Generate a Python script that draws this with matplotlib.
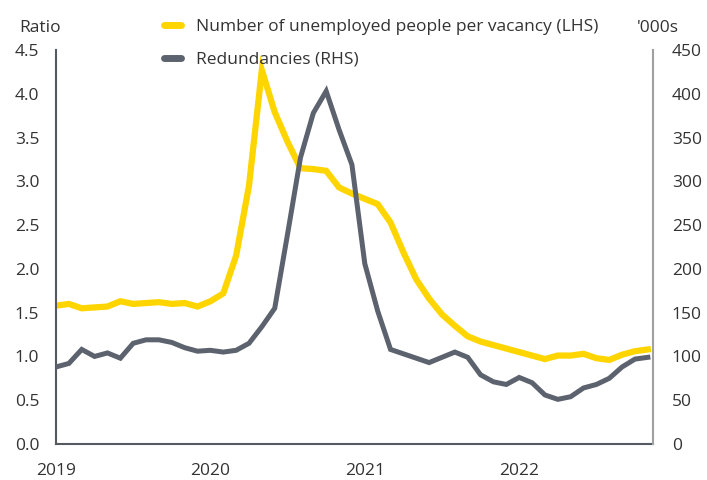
import matplotlib
matplotlib.use("Agg")
import matplotlib.pyplot as plt
from matplotlib.lines import Line2D

# Monthly data, Jan 2019 - Nov 2022
ratio = [1.58, 1.60, 1.55, 1.56, 1.57, 1.63, 1.60, 1.61, 1.62, 1.60,
         1.61, 1.57, 1.63, 1.72, 2.15, 2.95, 4.27, 3.79, 3.45, 3.15,
         3.14, 3.12, 2.93, 2.86, 2.80, 2.74, 2.53, 2.19, 1.88, 1.66,
         1.48, 1.35, 1.23, 1.17, 1.13, 1.09, 1.05, 1.01, 0.97, 1.01,
         1.01, 1.03, 0.98, 0.96, 1.02, 1.06, 1.08]
redundancies = [88, 92, 108, 100, 104, 98, 115, 119, 119, 116,
                110, 106, 107, 105, 107, 115, 134, 155, 240, 327,
                378, 403, 359, 319, 206, 152, 108, 103, 98, 93,
                99, 105, 99, 79, 71, 68, 76, 70, 56, 51,
                54, 64, 68, 75, 88, 97, 99]
year_labels = ["2019", "2020", "2021", "2022"]
year_pos = [0, 12, 24, 36]
left_ticks = [0.0, 0.5, 1.0, 1.5, 2.0, 2.5, 3.0, 3.5, 4.0, 4.5]
right_ticks = [0, 50, 100, 150, 200, 250, 300, 350, 400, 450]

YELLOW = "#FFD500"
GRAY = "#5C636E"
TEXT = "#333333"
FS = 12.5

plt.rcParams['font.family'] = ['Open Sans', 'DejaVu Sans']
plt.rcParams['font.size'] = FS

fig = plt.figure(figsize=(7.07, 4.80), dpi=100)
ax = fig.add_axes([56/707, 1-444/480, (653-56)/707, (444-50)/480])
ax2 = ax.twinx()

x = list(range(len(ratio)))
ax.plot(x, ratio, color=YELLOW, lw=4.5, solid_joinstyle='miter', zorder=2)
ax2.plot(x, redundancies, color=GRAY, lw=3.6, solid_joinstyle='miter', zorder=3)

ax.set_xlim(0, 46.4)
ax.set_ylim(0, 4.5)
ax2.set_ylim(0, 450)
ax.set_yticks(left_ticks)
ax.set_yticklabels([f"{v:.1f}" for v in left_ticks])
ax2.set_yticks(right_ticks)
ax2.set_yticklabels([str(v) for v in right_ticks])
ax.set_xticks(year_pos)
ax.set_xticklabels(year_labels)

ax.tick_params(axis='y', length=0, pad=12, labelsize=FS, colors=TEXT)
ax.tick_params(axis='x', length=0, pad=13.5, labelsize=FS, colors=TEXT)
ax2.tick_params(axis='y', length=0, pad=13.5, labelsize=FS, colors=TEXT)

for a in (ax, ax2):
    a.spines['top'].set_visible(False)
ax.spines['left'].set_color('#555a60')
ax.spines['left'].set_linewidth(1.5)
ax.spines['bottom'].set_color('#555a60')
ax.spines['bottom'].set_linewidth(1.5)
ax.spines['right'].set_visible(False)
ax2.spines['left'].set_visible(False)
ax2.spines['bottom'].set_visible(False)
ax2.spines['right'].set_color('#a0a0a0')
ax2.spines['right'].set_linewidth(1.5)

fig.text(19/707, 1-28/480, "Ratio", ha='left', va='center', fontsize=FS, color=TEXT)
fig.text(637/707, 1-28/480, "'000s", ha='left', va='center', fontsize=FS, color=TEXT)

handles = [Line2D([], [], color=YELLOW, lw=5, solid_capstyle='round'),
           Line2D([], [], color=GRAY, lw=5, solid_capstyle='round')]
labels = ["Number of unemployed people per vacancy (LHS)", "Redundancies (RHS)"]
fig.legend(handles, labels, loc='upper left', bbox_to_anchor=(164/707, 1-19/480),
           frameon=False, fontsize=FS, handlelength=1.0, handletextpad=0.83,
           labelspacing=0.95, borderpad=0, borderaxespad=0, labelcolor=TEXT)

fig.savefig("out.png", dpi=100)
